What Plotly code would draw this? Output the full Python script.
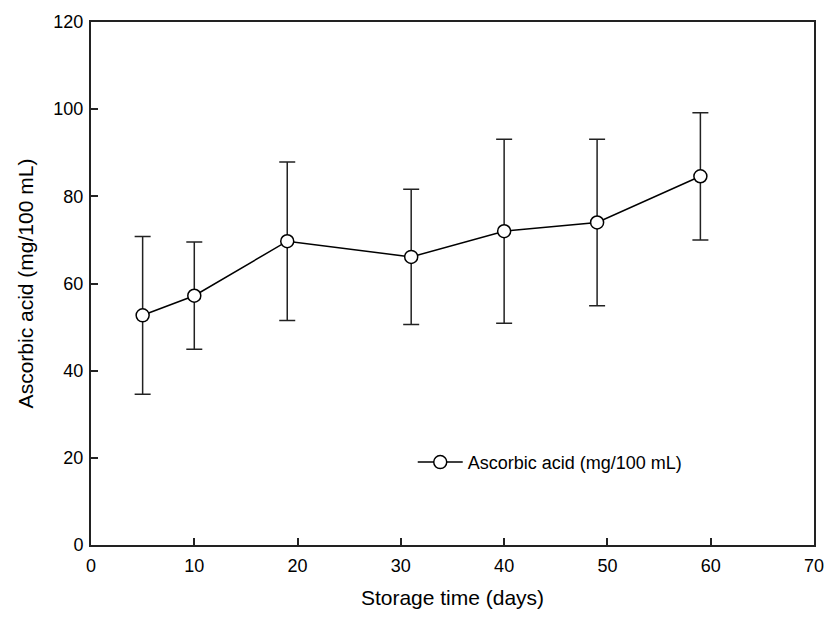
import plotly.graph_objects as go

days = [5, 10, 19, 31, 40, 49, 59]
ascorbic = [52.7, 57.2, 69.7, 66.1, 72.0, 74.0, 84.6]
sd = [18.1, 12.3, 18.2, 15.5, 21.1, 19.1, 14.6]

fig = go.Figure()
fig.add_trace(go.Scatter(
    x=days, y=ascorbic, mode="lines+markers",
    name="Ascorbic acid (mg/100 mL)",
    line=dict(color="black", width=1.5),
    marker=dict(symbol="circle", size=13, color="white", line=dict(color="black", width=1.5)),
    error_y=dict(type="data", array=sd, visible=True, color="#222222", thickness=1.5, width=8),
))

axis_common = dict(
    showline=True, linecolor="#222222", linewidth=2, mirror=True,
    ticks="inside", ticklen=7, tickwidth=1.5, tickcolor="#222222",
    showgrid=False, zeroline=False,
    tickfont=dict(family="Liberation Sans, Arial", size=18, color="black"),
)

fig.update_layout(
    width=836, height=623,
    margin=dict(l=91, r=14, t=18, b=78),
    paper_bgcolor="white", plot_bgcolor="white",
    font=dict(family="Liberation Sans, Arial", color="black"),
    xaxis=dict(range=[0, 70], dtick=10, ticklabelstandoff=3,
               title=dict(text="Storage time (days)", font=dict(size=21), standoff=16),
               **axis_common),
    yaxis=dict(range=[0, 120], dtick=20, ticklabelstandoff=2,
               title=dict(text="Ascorbic acid (mg/100 mL)", font=dict(size=21), standoff=14),
               **axis_common),
    showlegend=True,
    legend=dict(x=0.445, y=0.158, xanchor="left", yanchor="middle", itemwidth=45,
                bgcolor="rgba(0,0,0,0)", font=dict(size=18)),
)

fig.write_html("out.html")
